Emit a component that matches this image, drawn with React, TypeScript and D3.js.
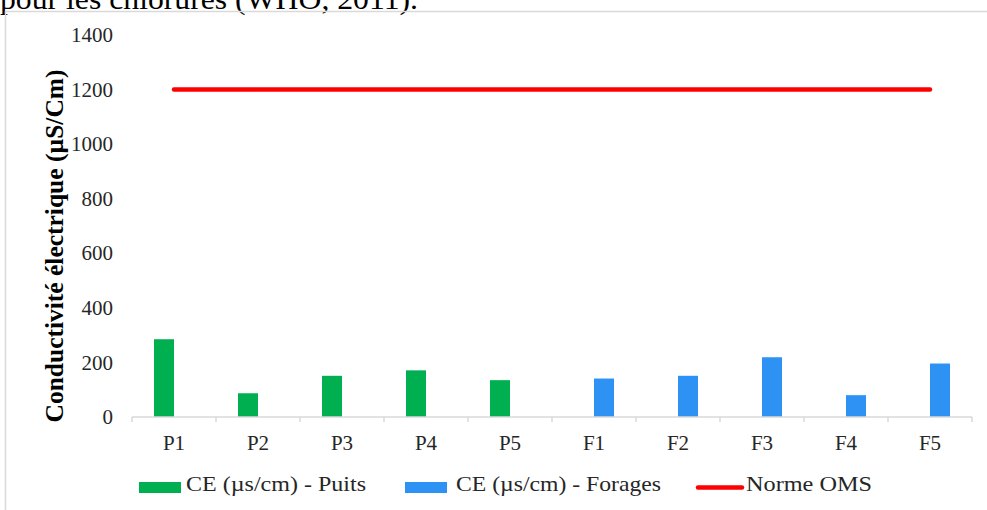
import React from "react";
import * as d3 from "d3";

const categories = ["P1", "P2", "P3", "P4", "P5", "F1", "F2", "F3", "F4", "F5"];
const puitsValues: (number | null)[] = [285, 87, 151, 171, 135, null, null, null, null, null];
const foragesValues: (number | null)[] = [null, null, null, null, null, 141, 151, 219, 80, 196];
const normeValues = [1200, 1200, 1200, 1200, 1200, 1200, 1200, 1200, 1200, 1200];
const yTicks = [0, 200, 400, 600, 800, 1000, 1200, 1400];
const seriesNames = ["CE (µs/cm) - Puits", "CE (µs/cm) - Forages", "Norme OMS"];
const yTitle = "Conductivité électrique (µS/Cm)";
const topText = "pour les chlorures (WHO, 2011).";

const W = 987;
const H = 510;
const GREEN = "#00B050";
const BLUE = "#2E92F5";
const RED = "#FF0000";
const GRID = "#d9d9d9";
const SERIF = "'Times New Roman', 'Liberation Serif', Tinos, Times, serif";

export default function App() {
  const x = d3.scaleBand<string>().domain(categories).range([132, 972]).paddingInner(0).paddingOuter(0);
  const sub = d3.scaleBand<string>().domain(["puits", "forages"]).range([0, x.bandwidth()]).paddingInner(0).paddingOuter(1.1);
  const y = d3.scaleLinear().domain([0, 1400]).range([417, 35]);

  const line = d3
    .line<number>()
    .x((_, i) => (x(categories[i]) as number) + x.bandwidth() / 2)
    .y((d) => y(d));

  const bars: { key: string; cat: string; v: number; color: string }[] = [];
  categories.forEach((c, i) => {
    const p = puitsValues[i];
    const f = foragesValues[i];
    if (p != null) bars.push({ key: "puits", cat: c, v: p, color: GREEN });
    if (f != null) bars.push({ key: "forages", cat: c, v: f, color: BLUE });
  });

  const boundaries = [...categories.map((c) => x(c) as number), 972];

  return (
    <div style={{ position: "absolute", left: 0, top: 0, width: W, height: H, background: "#fff" }}>
      <svg width={W} height={H} style={{ display: "block" }}>
        <rect x={0} y={0} width={W} height={H} fill="#fff" />
        <text x={0} y={9} fontFamily={SERIF} fontSize={30} fill="#000" textLength={418} lengthAdjust="spacingAndGlyphs">
          {topText}
        </text>
        {/* chart frame */}
        <line x1={5.5} x2={5.5} y1={11} y2={H} stroke={GRID} strokeWidth={1.5} />
        <line x1={5} x2={W} y1={11.5} y2={11.5} stroke={GRID} strokeWidth={1.5} />

        {/* y tick labels */}
        {yTicks.map((t) => (
          <text key={t} x={113} y={y(t)} dy="0.34em" textAnchor="end" fontFamily={SERIF} fontSize={21} fill="#262626">
            {t}
          </text>
        ))}

        {/* y title */}
        <text
          transform={`translate(63,246) rotate(-90)`}
          textAnchor="middle"
          fontFamily={SERIF}
          fontWeight="bold"
          fontSize={26}
          fill="#000"
          textLength={353}
          lengthAdjust="spacingAndGlyphs"
        >
          {yTitle}
        </text>

        {/* bars */}
        {bars.map((b) => (
          <rect
            key={b.key + b.cat}
            x={(x(b.cat) as number) + (sub(b.key) as number)}
            y={y(b.v)}
            width={sub.bandwidth()}
            height={y(0) - y(b.v)}
            fill={b.color}
          />
        ))}

        {/* x axis */}
        <line x1={132} x2={972} y1={417} y2={417} stroke={GRID} strokeWidth={1.5} />
        {boundaries.map((bx, i) => (
          <line key={i} x1={bx} x2={bx} y1={417} y2={422} stroke={GRID} strokeWidth={1.5} />
        ))}
        {categories.map((c) => (
          <text key={c} x={(x(c) as number) + x.bandwidth() / 2} y={450} textAnchor="middle" fontFamily={SERIF} fontSize={21} fill="#262626">
            {c}
          </text>
        ))}

        {/* norme line */}
        <path d={line(normeValues) || ""} fill="none" stroke={RED} strokeWidth={4.5} strokeLinecap="round" />

        {/* legend */}
        <rect x={139} y={482} width={42} height={11} fill={GREEN} />
        <text x={186} y={491} fontFamily={SERIF} fontSize={21} fill="#262626" textLength={180} lengthAdjust="spacingAndGlyphs">
          {seriesNames[0]}
        </text>
        <rect x={405} y={482} width={42} height={11} fill={BLUE} />
        <text x={456} y={491} fontFamily={SERIF} fontSize={21} fill="#262626" textLength={205} lengthAdjust="spacingAndGlyphs">
          {seriesNames[1]}
        </text>
        <line x1={698} x2={742} y1={487.5} y2={487.5} stroke={RED} strokeWidth={4.5} strokeLinecap="round" />
        <text x={746} y={491} fontFamily={SERIF} fontSize={21} fill="#262626" textLength={126} lengthAdjust="spacingAndGlyphs">
          {seriesNames[2]}
        </text>
      </svg>
    </div>
  );
}
